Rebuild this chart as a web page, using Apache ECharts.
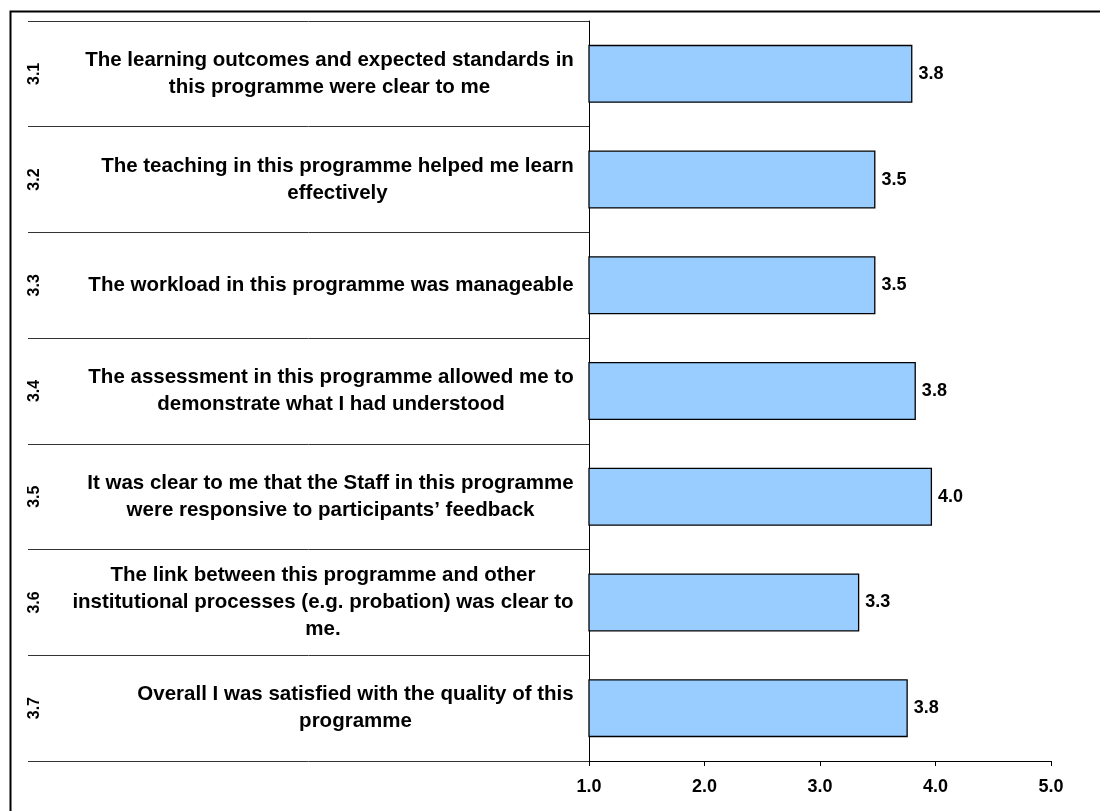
<!DOCTYPE html>
<html>
<head>
<meta charset="utf-8">
<script src="https://cdn.jsdelivr.net/npm/echarts@6/dist/echarts.min.js"></script>
<style>
html,body{margin:0;padding:0;background:#fff;}
#chart{width:1100px;height:811px;}
</style>
</head>
<body>
<div id="chart"></div>
<script>
const codes = ['3.1', '3.2', '3.3', '3.4', '3.5', '3.6', '3.7'];
const questions = [
  'The learning outcomes and expected standards in\nthis programme were clear to me',
  'The teaching in this programme helped me learn\neffectively',
  'The workload in this programme was manageable',
  'The assessment in this programme allowed me to\ndemonstrate what I had understood',
  'It was clear to me that the Staff in this programme\nwere responsive to participants’ feedback',
  'The link between this programme and other\ninstitutional processes (e.g. probation) was clear to\nme.',
  'Overall I was satisfied with the quality of this\nprogramme'
];
const values = [3.80, 3.48, 3.48, 3.83, 3.97, 3.34, 3.76];
const xTickValues = [1, 2, 3, 4, 5];

const FONT = '"Liberation Sans", Arial, sans-serif';
const QSIZE = 20.5;
const ctx = document.createElement('canvas').getContext('2d');
ctx.font = 'bold ' + QSIZE + 'px ' + FONT;
const rich = {};
questions.forEach((q, i) => {
  const w = Math.max(...q.split('\n').map(l => ctx.measureText(l).width));
  rich['q' + i] = {
    width: Math.ceil(w) + 2, align: 'center', fontSize: QSIZE, fontWeight: 'bold',
    fontFamily: FONT, color: '#000', lineHeight: 27
  };
});

const chart = echarts.init(document.getElementById('chart'), null, {renderer: 'canvas'});
chart.setOption({
  animation: false,
  backgroundColor: '#fff',
  graphic: [{
    type: 'rect', left: 8, top: 9, z: 100, silent: true,
    shape: {width: 1120, height: 830},
    style: {fill: 'none', stroke: '#000', lineWidth: 2}
  }],
  grid: {left: 589, right: 49, top: 21, bottom: 50, containLabel: false},
  xAxis: {
    type: 'value', min: 1, max: 5, interval: 1,
    axisLine: {show: true, lineStyle: {color: '#000', width: 1}},
    axisTick: {show: true, length: 5, lineStyle: {color: '#000'}},
    splitLine: {show: false},
    axisLabel: {
      margin: 17, fontSize: 18, fontWeight: 'bold', fontFamily: FONT, color: '#000',
      formatter: v => xTickValues.includes(v) ? v.toFixed(1) : ''
    }
  },
  yAxis: [{
    type: 'category', data: questions, inverse: true, position: 'left',
    axisLine: {show: true, lineStyle: {color: '#000', width: 1}},
    axisTick: {show: true, length: 561, lineStyle: {color: '#333', width: 1}},
    axisLabel: {
      margin: 14, align: 'right', rich: rich,
      formatter: (v, i) => v.split('\n').map(l => '{q' + i + '|' + l + '}').join('\n')
    }
  }, {
    type: 'category', data: codes, inverse: true, position: 'left',
    axisLine: {show: false}, axisTick: {show: false},
    axisLabel: {
      margin: 546, rotate: 90, fontSize: 16, fontWeight: 'bold', fontFamily: FONT, color: '#000'
    }
  }],
  series: [{
    type: 'bar', data: values, barWidth: 58, yAxisIndex: 0,
    itemStyle: {color: '#99CCFF', borderColor: '#000', borderWidth: 1.3},
    label: {
      show: true, position: 'right', distance: 6, fontSize: 18, fontWeight: 'bold',
      fontFamily: FONT, color: '#000', formatter: p => p.value.toFixed(1)
    }
  }]
});
</script>
</body>
</html>
